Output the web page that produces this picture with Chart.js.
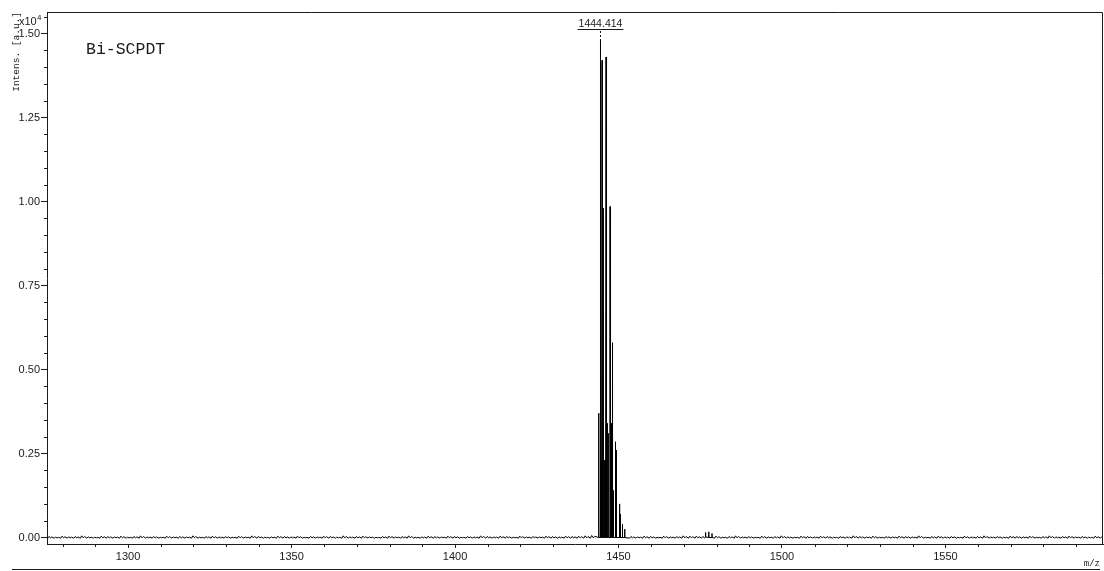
<!DOCTYPE html>
<html><head><meta charset="utf-8">
<script src="https://cdn.jsdelivr.net/npm/chart.js@4.4.1/dist/chart.umd.min.js"></script>
<style>html,body{margin:0;padding:0;background:#fff;}canvas{display:block}</style>
</head><body>
<canvas id="c" width="1104" height="571"></canvas>
<script>
// ---- data ----
const xTickValues = [1300, 1350, 1400, 1450, 1500, 1550];
const yTickValues = [0.00, 0.25, 0.50, 0.75, 1.00, 1.25, 1.50];
const peakMz = [1443.95, 1444.414, 1444.66, 1444.96, 1445.27, 1445.64, 1445.88, 1446.19, 1446.49, 1446.86,
                1447.41, 1447.60, 1447.84, 1448.15, 1448.45, 1449.06, 1449.37, 1450.29, 1450.47, 1451.20,
                1451.90, 1476.60, 1477.60, 1478.60];
const peakIntensity = [0.37, 1.48, 0.23, 1.42, 0.98, 0.23, 0.23, 1.43, 0.34, 0.31,
                       0.985, 0.70, 0.34, 0.58, 0.14, 0.285, 0.26, 0.10, 0.07, 0.04,
                       0.025, 0.015, 0.017, 0.012];
const noiseStartMz = 1276;
const noiseStepMz = 2;
const noiseIntensity = [
0.003,0.001,0.004,0.002,0.003,0.005,0.002,0.001,0.004,0.003,
0.002,0.004,0.001,0.003,0.005,0.002,0.003,0.001,0.004,0.002,
0.003,0.002,0.005,0.001,0.003,0.004,0.002,0.003,0.001,0.004,
0.002,0.005,0.003,0.001,0.002,0.004,0.003,0.002,0.004,0.001,
0.003,0.002,0.004,0.003,0.001,0.005,0.002,0.003,0.004,0.002,
0.001,0.003,0.004,0.002,0.003,0.005,0.001,0.002,0.004,0.003,
0.002,0.004,0.003,0.001,0.003,0.002,0.005,0.003,0.002,0.004,
0.003,0.001,0.004,0.002,0.003,0.002,0.004,0.003,0.002,0.004,
0.003,0.004,0.005,0.006,0.006,0.006,0.005,0.003,0.005,0.003,
0.002,0.004,0.003,0.001,0.004,0.002,0.003,0.005,0.004,0.004,
0.003,0.002,0.004,0.001,0.003,0.005,0.002,0.003,0.001,0.004,
0.002,0.003,0.005,0.002,0.001,0.004,0.003,0.002,0.004,0.003,
0.001,0.003,0.002,0.005,0.003,0.002,0.004,0.001,0.003,0.002,
0.004,0.003,0.002,0.005,0.001,0.003,0.004,0.002,0.003,0.001,
0.004,0.002,0.003,0.005,0.002,0.003,0.001,0.004,0.003,0.002,
0.004,0.001,0.003,0.005,0.002,0.003,0.004,0.002,0.003,0.001,
0.004,0.002];
const sampleName = 'Bi-SCPDT';
const peakLabelMz = 1444.414;
const yAxisTitle = 'Intens. [a.u.]';
const xAxisTitle = 'm/z';

// ---- build the profile from the arrays ----
const points = [];
noiseIntensity.forEach((v, i) => {
  const mz = noiseStartMz + i * noiseStepMz;
  if (peakMz.some(m => Math.abs(m - mz) < 0.5)) return;
  points.push({x: mz - 0.6, y: -0.002});
  points.push({x: mz - 0.2, y: v});
  points.push({x: mz + 0.3, y: -0.001});
  points.push({x: mz + 0.7, y: v * 0.6});
});
peakMz.forEach((m, i) => {
  points.push({x: m - 0.05, y: 0});
  points.push({x: m, y: peakIntensity[i]});
  points.push({x: m + 0.05, y: 0});
});
points.sort((a, b) => a.x - b.x);

const INK = '#1a1a1a';
const FONT = "'Liberation Sans', Arial, sans-serif";

const decorPlugin = {
  id: 'decor',
  afterDraw(chart) {
    const ctx = chart.ctx;
    const a = chart.chartArea;
    const xs = chart.scales.x, ys = chart.scales.y;
    ctx.save();
    ctx.strokeStyle = INK;
    ctx.lineWidth = 1;
    // top & right frame
    ctx.beginPath();
    ctx.moveTo(Math.round(a.left) + 0.5, Math.round(a.top) + 0.5);
    ctx.lineTo(Math.round(a.right) - 0.5, Math.round(a.top) + 0.5);
    ctx.lineTo(Math.round(a.right) - 0.5, Math.round(a.bottom) + 0.5);
    ctx.stroke();
    // minor y ticks
    ctx.beginPath();
    for (let k = 1; k <= 31; k++) {
      if (k % 5 === 0) continue;
      const y = Math.round(ys.getPixelForValue(k * 0.05)) + 0.5;
      ctx.moveTo(a.left - 3, y); ctx.lineTo(a.left, y);
    }
    // minor x ticks
    for (let v = 1280; v <= 1590; v += 10) {
      if (v % 50 === 0) continue;
      const x = Math.round(xs.getPixelForValue(v)) + 0.5;
      ctx.moveTo(x, a.bottom); ctx.lineTo(x, a.bottom + 3);
    }
    ctx.stroke();
    // bottom rule
    ctx.beginPath();
    ctx.moveTo(12, 569.5); ctx.lineTo(1100, 569.5);
    ctx.stroke();
    // peak label
    const px = Math.round(xs.getPixelForValue(peakLabelMz)) + 0.5;
    const topIdx = peakMz.indexOf(peakLabelMz);
    const py = ys.getPixelForValue(peakIntensity[topIdx]);
    ctx.fillStyle = INK;
    ctx.font = '10.5px ' + FONT;
    ctx.textAlign = 'center';
    ctx.textBaseline = 'alphabetic';
    ctx.fillText(peakLabelMz.toFixed(3), px, 27);
    const w = ctx.measureText(peakLabelMz.toFixed(3)).width;
    ctx.beginPath();
    ctx.moveTo(px - w / 2 - 1, 29.5); ctx.lineTo(px + w / 2 + 1, 29.5);
    ctx.stroke();
    ctx.setLineDash([2, 2]);
    ctx.beginPath();
    ctx.moveTo(px, 31); ctx.lineTo(px, py);
    ctx.stroke();
    ctx.setLineDash([]);
    // exponent
    ctx.textAlign = 'left';
    ctx.font = '11px ' + FONT;
    ctx.fillText('x10', 19, 25);
    ctx.font = '8px ' + FONT;
    ctx.fillText('4', 37, 20);
    // sample name
    ctx.font = "16.5px 'Liberation Mono', 'DejaVu Sans Mono', monospace";
    ctx.fillText(sampleName, 86, 54);
    // x axis title
    ctx.textAlign = 'right';
    ctx.font = "9px 'Liberation Mono', monospace";
    ctx.fillText(xAxisTitle, 1100, 566);
    ctx.restore();
  }
};

new Chart(document.getElementById('c'), {
  type: 'line',
  data: {
    datasets: [{
      data: points,
      borderColor: '#000',
      borderWidth: 1,
      pointRadius: 0,
      tension: 0,
      fill: false
    }]
  },
  options: {
    responsive: false,
    animation: false,
    devicePixelRatio: 1,
    parsing: false,
    normalized: true,
    layout: {padding: {top: 12, right: 1, left: 0, bottom: 0}},
    plugins: {legend: {display: false}, tooltip: {enabled: false}},
    scales: {
      x: {
        type: 'linear',
        min: 1275.2, max: 1598.2,
        afterFit: s => { s.height = 27; },
        afterBuildTicks: s => { s.ticks = xTickValues.map(v => ({value: v})); },
        ticks: {stepSize: 50, includeBounds: false, autoSkip: false, maxRotation: 0,
                color: INK, padding: 2, font: {family: FONT, size: 11},
                callback: v => String(v)},
        grid: {drawOnChartArea: false, drawTicks: true, tickLength: 4, tickColor: INK},
        border: {color: INK, width: 1}
      },
      y: {
        type: 'linear',
        min: -0.0193, max: 1.564,
        afterFit: s => { s.width = 47; },
        afterBuildTicks: s => { s.ticks = yTickValues.map(v => ({value: v})); },
        ticks: {stepSize: 0.25, includeBounds: false, autoSkip: false,
                color: INK, padding: 1, font: {family: FONT, size: 11},
                callback: v => Number(v).toFixed(2)},
        grid: {drawOnChartArea: false, drawTicks: true, tickLength: 6, tickColor: INK},
        border: {color: INK, width: 1},
        title: {display: true, text: yAxisTitle, align: 'end', color: INK,
                font: {family: "'Liberation Mono', monospace", size: 9.5},
                padding: {top: 11, bottom: 0}}
      }
    }
  },
  plugins: [decorPlugin]
});
</script>
</body></html>
